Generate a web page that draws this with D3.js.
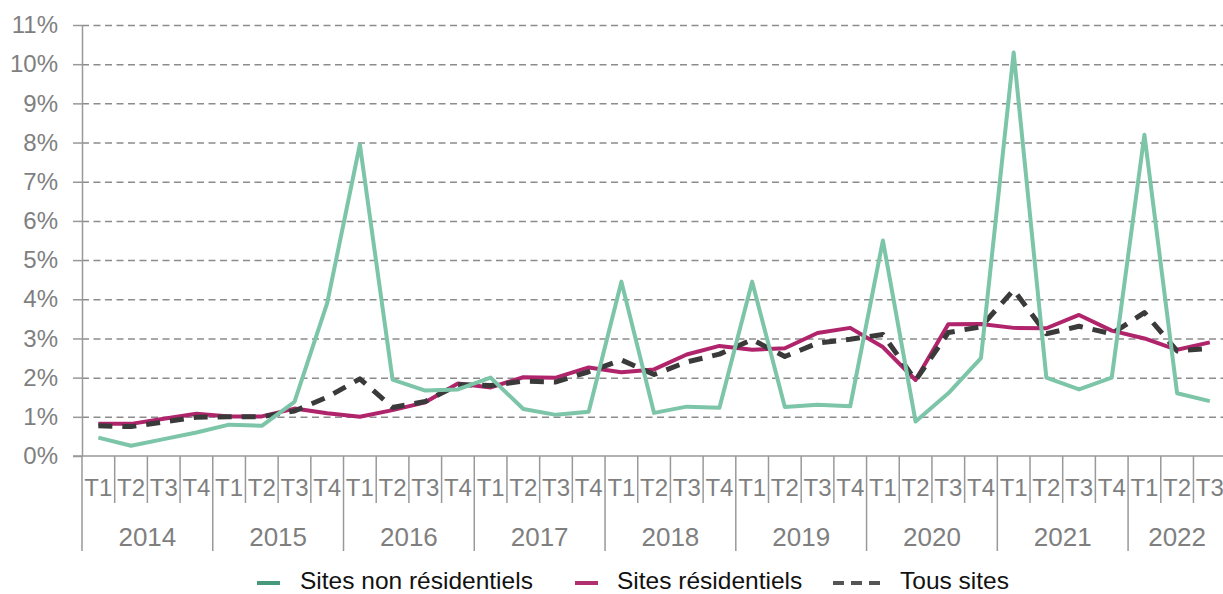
<!DOCTYPE html>
<html>
<head>
<meta charset="utf-8">
<script src="https://cdn.jsdelivr.net/npm/d3@7"></script>
<style>
  body { margin: 0; background: #fff; }
  svg { display: block; }
</style>
</head>
<body>
<div id="chart_div"></div>
<script>
var years = ['2014', '2015', '2016', '2017', '2018', '2019', '2020', '2021', '2022']
var quarters = ['T1', 'T2', 'T3', 'T4']
var yTicks = [0, 1, 2, 3, 4, 5, 6, 7, 8, 9, 10, 11]

// values in %, 2014 T1 .. 2022 T3
var nonResidentiel = [0.47, 0.26, 0.43, 0.6, 0.8, 0.77, 1.38, 3.9, 7.95, 1.95, 1.67, 1.7,
  2.0, 1.2, 1.05, 1.13, 4.45, 1.1, 1.26, 1.23, 4.45, 1.25, 1.31, 1.27,
  5.5, 0.88, 1.6, 2.5, 10.3, 2.0, 1.7, 2.0, 8.2, 1.6, 1.4]
var residentiel = [0.82, 0.82, 0.95, 1.08, 1.01, 1.01, 1.21, 1.09, 1.0, 1.17, 1.37, 1.85,
  1.75, 2.01, 2.0, 2.26, 2.14, 2.21, 2.59, 2.81, 2.71, 2.75, 3.14, 3.27,
  2.78, 1.94, 3.36, 3.37, 3.27, 3.26, 3.6, 3.2, 3.0, 2.71, 2.9]
var tousSites = [0.77, 0.75, 0.87, 0.99, 1.0, 1.0, 1.15, 1.5, 1.97, 1.24, 1.39, 1.82,
  1.8, 1.91, 1.89, 2.15, 2.45, 2.08, 2.4, 2.6, 2.97, 2.54, 2.88, 2.98,
  3.1, 1.93, 3.15, 3.3, 4.24, 3.12, 3.31, 3.12, 3.66, 2.68, 2.75]

function draw_chart(){
  var categories = []
  years.forEach(function(y){
    quarters.forEach(function(q){
      if (categories.length < nonResidentiel.length)
        categories.push({year: y, q: q, key: y + q})
    })
  })

  var series = [
    {name: 'Sites résidentiels', values: residentiel, color: '#b0246b', legend: '#b0306f', width: 4, dash: null},
    {name: 'Tous sites', values: tousSites, color: '#3a3a3a', legend: '#555', width: 5, dash: '14 10'},
    {name: 'Sites non résidentiels', values: nonResidentiel, color: '#7dc5a9', legend: '#46997b', width: 4, dash: null}
  ]

  var W = 1223, H = 594
  var margin = {left: 82, top: 25, bottom: 456}
  var step = 32.69
  var right = margin.left + step * categories.length
  var xScale = d3.scaleBand().domain(categories.map(function(d){ return d.key }))
    .range([margin.left, right]).padding(0)
  var yScale = d3.scaleLinear().domain([0, 11]).range([margin.bottom, margin.top])

  var svg = d3.select('#chart_div').append('svg')
    .attr('width', W).attr('height', H)
    .style('font-family', '"Liberation Sans", Arial, sans-serif')

  // grid
  var grid = svg.append('g').attr('class', 'grid')
    .attr('transform', 'translate(' + margin.left + ',0)')
    .call(d3.axisLeft(yScale).tickValues(yTicks.slice(1)).tickSize(-(right - margin.left)).tickFormat(''))
  grid.select('.domain').remove()
  grid.selectAll('line').style('stroke', '#8c8c8c').style('stroke-width', 1.5).style('stroke-dasharray', '7 4.5')

  // y axis
  var yAxis = svg.append('g').attr('class', 'yaxis')
    .attr('transform', 'translate(' + margin.left + ',0)')
    .call(d3.axisLeft(yScale).tickValues(yTicks).tickSize(9).tickSizeOuter(0).tickPadding(15)
      .tickFormat(function(d){ return d + '%' }))
  yAxis.select('.domain').style('stroke', '#999').style('stroke-width', 1.5)
  yAxis.selectAll('line').style('stroke', '#999').style('stroke-width', 1.5)
  yAxis.selectAll('text').style('fill', '#7f7f7f').style('font-size', '24px')

  // x axis
  var xAxis = svg.append('g').attr('class', 'xaxis')
    .attr('transform', 'translate(0,' + margin.bottom + ')')
    .call(d3.axisBottom(xScale).tickSize(0).tickSizeOuter(0)
      .tickFormat(function(d){ return d.slice(4) }))
  xAxis.select('.domain').attr('d', 'M' + (margin.left - 9) + ',0H' + (right + 10))
    .style('stroke', '#999').style('stroke-width', 1.5)
  xAxis.selectAll('text').attr('y', 32).attr('dy', '0.35em')
    .style('fill', '#7f7f7f').style('font-size', '24px')

  svg.append('g').selectAll('line').data(categories).enter().append('line')
    .attr('x1', function(d){ return xScale(d.key) }).attr('x2', function(d){ return xScale(d.key) })
    .attr('y1', margin.bottom)
    .attr('y2', function(d){ return d.q == 'T1' ? 551 : 503 })
    .style('stroke', '#999').style('stroke-width', 1.5)

  svg.append('g').selectAll('text').data(years).enter().append('text')
    .attr('x', function(y){
      var ks = categories.filter(function(c){ return c.year == y })
      return (xScale(ks[0].key) + xScale(ks[ks.length - 1].key) + xScale.bandwidth()) / 2
    })
    .attr('y', 537).attr('dy', '0.35em').attr('text-anchor', 'middle')
    .style('fill', '#7f7f7f').style('font-size', '26px')
    .text(function(y){ return y })

  // lines
  series.forEach(function(s){
    var line = d3.line()
      .x(function(d, i){ return xScale(categories[i].key) + xScale.bandwidth() / 2 })
      .y(function(d){ return yScale(d) })
    svg.append('path').datum(s.values)
      .attr('d', line).attr('fill', 'none')
      .style('stroke', s.color).style('stroke-width', s.width)
      .style('stroke-linejoin', 'round')
      .style('stroke-dasharray', s.dash)
  })

  // legend
  var legendItems = [
    {s: series[2], x: 257, len: 23, tx: 300},
    {s: series[0], x: 575, len: 23, tx: 617},
    {s: series[1], x: 833, len: 47, tx: 900}
  ]
  var legend = svg.append('g').attr('class', 'legend')
  legendItems.forEach(function(it){
    legend.append('line')
      .attr('x1', it.x).attr('x2', it.x + it.len).attr('y1', 583).attr('y2', 583)
      .style('stroke', it.s.legend).style('stroke-width', 4)
      .style('stroke-dasharray', it.s.dash ? '11 7' : null)
    legend.append('text').attr('x', it.tx).attr('y', 589)
      .style('font-size', '24.5px').style('fill', '#111').text(it.s.name)
  })
}

draw_chart()
</script>
</body>
</html>
